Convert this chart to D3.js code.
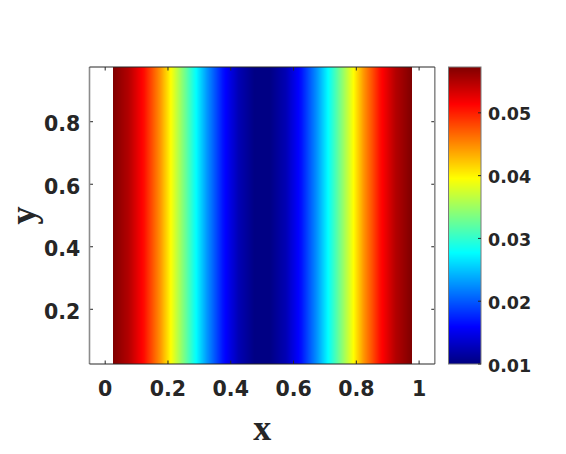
<!DOCTYPE html>
<html>
<head>
<meta charset="utf-8">
<script src="https://cdn.jsdelivr.net/npm/d3@7"></script>
<style>
  html, body { margin: 0; padding: 0; background: #fff; }
  svg { display: block; }
</style>
</head>
<body>
<svg id="chart" width="566" height="454"></svg>
<script>
// ---- data ----
const xGrid = [0.025, 0.075, 0.125, 0.175, 0.225, 0.275, 0.325, 0.375, 0.425, 0.475,
               0.525, 0.575, 0.625, 0.675, 0.725, 0.775, 0.825, 0.875, 0.925, 0.975];
const yGrid = [0.025, 0.975];
const values = [0.0573, 0.0549, 0.0507, 0.0446, 0.0372, 0.0298, 0.0228, 0.0167, 0.0124, 0.0102,
                0.0102, 0.0124, 0.0167, 0.0228, 0.0298, 0.0372, 0.0446, 0.0507, 0.0549, 0.0573];
const xTicks = [0, 0.2, 0.4, 0.6, 0.8, 1];
const xTickLabels = ["0", "0.2", "0.4", "0.6", "0.8", "1"];
const yTicks = [0.2, 0.4, 0.6, 0.8];
const yTickLabels = ["0.2", "0.4", "0.6", "0.8"];
const cTicks = [0.01, 0.02, 0.03, 0.04, 0.05];
const cTickLabels = ["0.01", "0.02", "0.03", "0.04", "0.05"];
const cRange = [0.01, 0.0573];

// ---- layout ----
const svg = d3.select("#chart");
const P = { left: 89.5, right: 434.8, top: 67, bottom: 364 };
const CB = { left: 448.5, right: 481, top: 67, bottom: 364 };
const textColor = "#262626";
const sideColor = "#8c8c8c";
const tickFont = "bold 20.5px 'DejaVu Sans', sans-serif";
const cbFont = "bold 17.5px 'DejaVu Sans', sans-serif";

const x = d3.scaleLinear().domain([-0.05, 1.05]).range([P.left, P.right]);
const y = d3.scaleLinear().domain([yGrid[0], yGrid[1]]).range([P.bottom, P.top]);
const cy = d3.scaleLinear().domain(cRange).range([CB.bottom, CB.top]);

// jet colormap
const jet = d3.scaleLinear()
  .domain([0, 0.125, 0.375, 0.625, 0.875, 1])
  .range(["rgb(0,0,128)", "rgb(0,0,255)", "rgb(0,255,255)", "rgb(255,255,0)", "rgb(255,0,0)", "rgb(128,0,0)"])
  .interpolate(d3.interpolateRgb)
  .clamp(true);
const norm = d3.scaleLinear().domain(cRange).range([0, 1]).clamp(true);
const colorOf = v => jet(norm(v));

// interpolated field (shading interp)
const field = d3.scaleLinear().domain(xGrid).range(values);

// ---- image ----
const gImg = svg.append("g");
const px0 = x(xGrid[0]), px1 = x(xGrid[xGrid.length - 1]);
const cols = d3.range(Math.floor(px0), Math.ceil(px1));
gImg.selectAll("rect").data(cols).join("rect")
  .attr("x", d => Math.max(d, px0))
  .attr("width", d => Math.min(d + 1, px1) - Math.max(d, px0) + 0.4)
  .attr("y", y(yGrid[1]))
  .attr("height", y(yGrid[0]) - y(yGrid[1]))
  .attr("fill", d => colorOf(field(x.invert(Math.max(d, px0) + 0.5))))
  .attr("shape-rendering", "crispEdges");

// ---- axes box ----
const gAx = svg.append("g");
const tickLen = 3.5;
xTicks.forEach(t => {
  gAx.append("line").attr("x1", x(t)).attr("x2", x(t)).attr("y1", P.bottom).attr("y2", P.bottom - tickLen)
    .attr("stroke", textColor).attr("stroke-width", 1);
  gAx.append("line").attr("x1", x(t)).attr("x2", x(t)).attr("y1", P.top).attr("y2", P.top + tickLen)
    .attr("stroke", textColor).attr("stroke-width", 1);
});
yTicks.forEach(t => {
  gAx.append("line").attr("x1", P.left).attr("x2", P.left + tickLen).attr("y1", y(t)).attr("y2", y(t))
    .attr("stroke", textColor).attr("stroke-width", 1);
  gAx.append("line").attr("x1", P.right).attr("x2", P.right - tickLen).attr("y1", y(t)).attr("y2", y(t))
    .attr("stroke", textColor).attr("stroke-width", 1);
});
gAx.append("line").attr("x1", P.left).attr("x2", P.left).attr("y1", P.top).attr("y2", P.bottom).attr("stroke", sideColor).attr("stroke-width", 1.6);
gAx.append("line").attr("x1", P.right).attr("x2", P.right).attr("y1", P.top).attr("y2", P.bottom).attr("stroke", sideColor).attr("stroke-width", 1.6);
gAx.append("line").attr("x1", P.left).attr("x2", P.right).attr("y1", P.top).attr("y2", P.top).attr("stroke", textColor);
gAx.append("line").attr("x1", P.left).attr("x2", P.right).attr("y1", P.bottom).attr("y2", P.bottom).attr("stroke", textColor);

// tick labels
svg.append("g").selectAll("text").data(xTicks).join("text")
  .attr("x", d => x(d)).attr("y", 395.5)
  .attr("text-anchor", "middle").style("font", tickFont).attr("fill", textColor)
  .text((d, i) => xTickLabels[i]);
svg.append("g").selectAll("text").data(yTicks).join("text")
  .attr("x", 80.3).attr("y", d => y(d) + 9.3)
  .attr("text-anchor", "end").style("font", tickFont).attr("fill", textColor)
  .text((d, i) => yTickLabels[i]);

// axis labels
svg.append("text").attr("x", (P.left + P.right) / 2).attr("y", 440)
  .attr("text-anchor", "middle")
  .style("font", "bold 36px 'Liberation Serif', 'Times New Roman', serif").attr("fill", textColor)
  .text("x");
svg.append("text")
  .attr("transform", `translate(35,${(P.top + P.bottom) / 2}) rotate(-90)`)
  .attr("text-anchor", "middle")
  .style("font", "bold 36px 'Liberation Serif', 'Times New Roman', serif").attr("fill", textColor)
  .text("y");

// ---- colorbar ----
const gCb = svg.append("g");
const rows = d3.range(CB.top, CB.bottom);
gCb.selectAll("rect").data(rows).join("rect")
  .attr("x", CB.left).attr("width", CB.right - CB.left)
  .attr("y", d => d).attr("height", 1.4)
  .attr("fill", d => colorOf(cy.invert(d + 0.5)))
  .attr("shape-rendering", "crispEdges");
gCb.append("rect").attr("x", CB.left).attr("y", CB.top)
  .attr("width", CB.right - CB.left).attr("height", CB.bottom - CB.top)
  .attr("fill", "none").attr("stroke", "#7a7a7a").attr("stroke-width", 1);
cTicks.forEach(t => {
  gCb.append("line").attr("x1", CB.right).attr("x2", CB.right - 3).attr("y1", cy(t)).attr("y2", cy(t))
    .attr("stroke", textColor);
});
svg.append("g").selectAll("text").data(cTicks).join("text")
  .attr("x", 488).attr("y", d => cy(d) + 7.5)
  .attr("text-anchor", "start").style("font", cbFont).attr("fill", textColor)
  .text((d, i) => cTickLabels[i]);
</script>
</body>
</html>
